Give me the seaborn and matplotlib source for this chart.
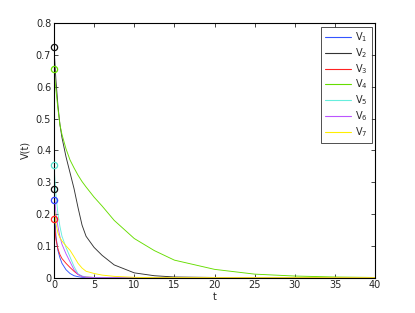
import numpy as np
import pandas as pd
import matplotlib
matplotlib.use("Agg")
import matplotlib.pyplot as plt
import seaborn as sns

# --- Data ---
t = [0, 0.25, 0.5, 0.75, 1, 1.5, 2, 2.5, 3, 3.5, 4, 5, 6, 7.5, 10, 12.5, 15, 20, 25, 30, 35, 40]

V1 = [0.245, 0.13, 0.085, 0.062, 0.045, 0.025, 0.013, 0.006, 0.003, 0.001, 0.0005, 0, 0, 0, 0, 0, 0, 0, 0, 0, 0, 0]
V2 = [0.725, 0.62, 0.54, 0.48, 0.44, 0.38, 0.33, 0.28, 0.22, 0.165, 0.13, 0.095, 0.07, 0.04, 0.015, 0.006, 0.002, 0.0005, 0, 0, 0, 0]
V3 = [0.185, 0.12, 0.09, 0.072, 0.06, 0.045, 0.032, 0.02, 0.01, 0.004, 0.002, 0.0005, 0, 0, 0, 0, 0, 0, 0, 0, 0, 0]
V4 = [0.655, 0.59, 0.53, 0.48, 0.45, 0.405, 0.37, 0.345, 0.322, 0.302, 0.285, 0.253, 0.225, 0.18, 0.123, 0.085, 0.055, 0.026, 0.011, 0.005, 0.002, 0.0005]
V5 = [0.355, 0.26, 0.2, 0.16, 0.13, 0.095, 0.065, 0.035, 0.012, 0.005, 0.002, 0.0005, 0, 0, 0, 0, 0, 0, 0, 0, 0, 0]
V6 = [0.28, 0.2, 0.16, 0.128, 0.105, 0.075, 0.05, 0.025, 0.01, 0.004, 0.001, 0, 0, 0, 0, 0, 0, 0, 0, 0, 0, 0]
V7 = [0.23, 0.17, 0.14, 0.125, 0.115, 0.1, 0.086, 0.066, 0.045, 0.03, 0.02, 0.013, 0.008, 0.004, 0.001, 0, 0, 0, 0, 0, 0, 0]

names = ["V1", "V2", "V3", "V4", "V5", "V6", "V7"]
labels = ["V$_1$", "V$_2$", "V$_3$", "V$_4$", "V$_5$", "V$_6$", "V$_7$"]
series = [V1, V2, V3, V4, V5, V6, V7]

# initial-value circles
start_names = ["V2", "V4", "V5", "V6", "V1", "V3"]
start_vals = [0.725, 0.655, 0.355, 0.28, 0.245, 0.185]

# --- Style ---
sns.set_style("ticks")
plt.rcParams.update({
    "font.family": ["DejaVu Sans"],
    "font.size": 7,
    "xtick.direction": "in",
    "ytick.direction": "in",
    "xtick.top": True,
    "ytick.right": True,
    "axes.linewidth": 0.8,
    "axes.edgecolor": "black",
})

colors = ["#3355ff", "#333333", "#ff2222", "#66dd00", "#66eedd", "#bb55ff", "#ffee00"]
palette = dict(zip(names, colors))
marker_colors = {"V2": "#111111", "V4": "#66dd00", "V5": "#55ddcc", "V6": "#111111",
                 "V1": "#3344ff", "V3": "#ff2222"}

df = pd.concat([pd.DataFrame({"t": t, "V": v, "series": n}) for n, v in zip(names, series)])

fig = plt.figure(figsize=(4.15, 3.13), dpi=100)
ax = fig.add_axes([0.130, 0.113, 0.774, 0.813])

sns.lineplot(data=df, x="t", y="V", hue="series", palette=palette, linewidth=0.65,
             ax=ax, legend=False, estimator=None)
for n, v in zip(start_names, start_vals):
    ax.plot([0], [v], marker="o", markersize=4.5, markerfacecolor="none",
            markeredgecolor=marker_colors[n], markeredgewidth=0.9, linestyle="none",
            zorder=5, clip_on=False)

ax.set_xlim(0, 40)
ax.set_ylim(0, 0.8)
ax.set_xticks(np.arange(0, 41, 5))
ax.set_yticks(np.arange(0, 0.81, 0.1))
ax.set_yticklabels(["0", "0.1", "0.2", "0.3", "0.4", "0.5", "0.6", "0.7", "0.8"])
ax.tick_params(length=3, width=0.6, labelsize=7, pad=2)
ax.set_xlabel("t", fontsize=7, labelpad=1)
ax.set_ylabel("V(t)", fontsize=7, labelpad=4)
for s in ax.spines.values():
    s.set_visible(True)

handles = [plt.Line2D([], [], color=c, linewidth=0.8) for c in colors]
leg = ax.legend(handles, labels, loc="upper right", fontsize=7, frameon=True,
                fancybox=False, edgecolor="black", handlelength=2.7,
                borderaxespad=0.35, labelspacing=0.2, handletextpad=0.4,
                borderpad=0.4)
leg.get_frame().set_linewidth(0.6)

fig.savefig("out.png", dpi=100)
